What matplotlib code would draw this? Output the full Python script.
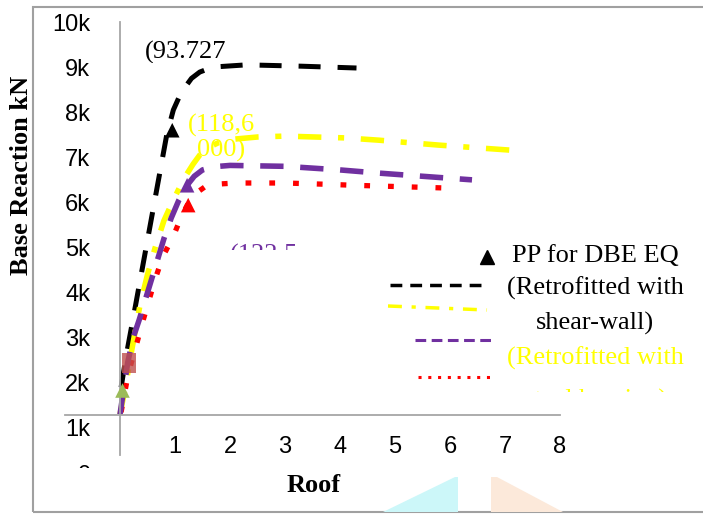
import matplotlib
matplotlib.use("Agg")
import matplotlib.pyplot as plt
from matplotlib.patches import Polygon, Rectangle
from matplotlib.transforms import Bbox, TransformedBbox

plt.rcParams['font.family'] = ['Liberation Sans', 'DejaVu Sans']
SERIF = ['Liberation Serif', 'DejaVu Serif']

# pushover curves: roof displacement vs base reaction (kN)
black_x = [0.02, 0.12, 0.25, 0.4, 0.55, 0.7, 0.85, 0.97, 1.08, 1.18, 1.3, 1.45, 1.6, 1.8, 2.3, 3.3, 4.3]
black_y = [1900, 2650, 3500, 4500, 5500, 6500, 7500, 8050, 8350, 8550, 8750, 8890, 8960, 9010, 9050, 9020, 8980]

yellow_x = [0.0, 0.09, 0.21, 0.36, 0.5, 0.64, 0.8, 0.95, 1.09, 1.2, 1.33, 1.45, 1.58, 1.8, 2.05, 2.5, 3.0, 4.1, 4.7, 5.8, 7.2]
yellow_y = [1300, 1850, 2700, 3700, 4400, 5000, 5600, 6000, 6350, 6600, 6850, 7050, 7200, 7330, 7400, 7450, 7470, 7430, 7380, 7270, 7150]

purple_x = [0.0, 0.14, 0.24, 0.35, 0.5, 0.65, 0.8, 0.93, 1.07, 1.22, 1.35, 1.5, 1.7, 2.0, 3.0, 4.0, 4.7, 6.4]
purple_y = [1300, 2450, 3000, 3400, 4000, 4600, 5200, 5650, 6050, 6380, 6580, 6720, 6790, 6820, 6800, 6720, 6650, 6500]

red_x = [0.02, 0.15, 0.3, 0.4, 0.52, 0.64, 0.78, 0.97, 1.12, 1.25, 1.4, 1.55, 1.7, 2.1, 3.0, 3.8, 4.24, 5.9]
red_y = [1350, 2200, 2850, 3300, 3800, 4300, 4800, 5250, 5700, 6000, 6220, 6350, 6400, 6430, 6430, 6400, 6380, 6320]

# performance points (DBE EQ)
pp_x = [0.95, 1.22, 1.24]
pp_y = [7600, 6380, 5940]
pp_colors = ['black', '#7030A0', '#FF0000']
green_x, green_y = [0.04], [1850]
square_x, square_y = [0.16], [2450]

y_ticks = [0, 1000, 2000, 3000, 4000, 5000, 6000, 7000, 8000, 9000, 10000]
y_tick_labels = ['0', '1k', '2k', '3k', '4k', '5k', '6k', '7k', '8k', '9k', '10k']
x_ticks = [1, 2, 3, 4, 5, 6, 7, 8]

W, H = 703, 514
fig = plt.figure(figsize=(W / 100, H / 100), dpi=100)
ax = fig.add_axes([65 / W, 41 / H, 495 / W, 451 / H])
ax.set_xlim(-1, 8)
ax.set_ylim(0, 10000)


def fx(px):
    return (px - 65) / 495


def fy(py):
    return (473 - py) / 451


# curves
ax.plot(black_x, black_y, color='black', lw=3.6, ls=(0, (4.4, 3.4)), dash_capstyle='butt')
ax.plot(yellow_x, yellow_y, color='#FFFF00', lw=4.0, ls=(0, (4.2, 3.0, 1.1, 3.0)), dash_capstyle='butt')
ax.plot(red_x, red_y, color='#FF0000', lw=3.8, ls=(0, (1.1, 3.4)), dash_capstyle='butt')
ax.plot(purple_x, purple_y, color='#7030A0', lw=4.0, ls=(0, (4.2, 3.0)), dash_capstyle='butt')

ax.scatter(pp_x, pp_y, marker='^', s=110, c=pp_colors, zorder=5, linewidths=0)
ax.scatter(green_x, green_y, marker='^', s=110, c='#9BBB59', zorder=5, linewidths=0)
rect = [(-0.7, -1), (0.7, -1), (0.7, 1), (-0.7, 1)]
ax.scatter(square_x, square_y, marker=rect, s=200, c='#C0504D', alpha=0.8, zorder=4, linewidths=0)

# axes look
for side in ['top', 'right']:
    ax.spines[side].set_visible(False)
ax.spines['left'].set_position(('data', 0))
ax.spines['left'].set_bounds(400, 10000)
ax.spines['bottom'].set_position(('data', 1290))
ax.spines['bottom'].set_bounds(-1, 8)
for side in ['left', 'bottom']:
    ax.spines[side].set_color('#A6A6A6')
    ax.spines[side].set_linewidth(1.3)

ax.set_yticks(y_ticks, y_tick_labels)
ax.set_xticks(x_ticks)
ax.tick_params(axis='y', length=0, pad=21.5, labelsize=17)
ax.tick_params(axis='x', length=0, pad=15.5, labelsize=17)
ax.yaxis.get_major_ticks()[0].label1.set_clip_box(Bbox([[0, 46], [W, H]]))

ax.set_ylabel('Base Reaction kN', family=SERIF, fontsize=19, fontweight='bold')
ax.yaxis.set_label_coords(fx(33), fy(175))
ax.set_xlabel('Roof', family=SERIF, fontsize=19, fontweight='bold')
ax.xaxis.set_label_coords(fx(314), fy(474))


def clipped_text(x, y, s, keep, **kw):
    t = ax.text(x, y, s, family=SERIF, fontsize=19, clip_on=True, **kw)
    t.set_clip_path(None)
    t.set_clip_box(TransformedBbox(Bbox(keep), ax.transAxes))
    return t


# point labels, cut off as in the source
clipped_text(0.45, 9590, '(93.727', [[0, fy(63)], [1.5, 1]], va='top', transform=ax.transData)
ax.text(1.84, 7960, '(118,6\n000)', family=SERIF, fontsize=19, color='#FFFF00',
        ha='center', va='top', linespacing=1.1)
clipped_text(2.0, 5080, '(122.5', [[0, fy(250)], [1.5, 1]], va='top', color='#7030A0',
             transform=ax.transData)

# legend
kw = dict(transform=ax.transAxes, clip_on=False)
ax.plot([fx(487)], [fy(257)], marker='^', ms=10, color='black', **kw)
ax.plot([fx(390), fx(484)], [fy(285)] * 2, color='black', lw=2.5, ls=(0, (3.4, 2.3)), **kw)
ax.plot([fx(388), fx(487)], [fy(306), fy(310)], color='#FFFF00', lw=2.5,
        ls=(0, (4.0, 2.8, 1.2, 2.8)), **kw)
ax.plot([fx(415), fx(493)], [fy(340)] * 2, color='#7030A0', lw=2.2, ls=(0, (3.5, 1.8)), **kw)
ax.plot([fx(418), fx(490)], [fy(377)] * 2, color='#FF0000', lw=2.2, ls=(0, (1.0, 2.2)), **kw)

legend_rows = [
    (fx(512), fy(256), 'PP for DBE EQ', 'black', 'left'),
    (fx(507), fy(288), '(Retrofitted with', 'black', 'left'),
    (fx(595), fy(323), 'shear-wall)', 'black', 'center'),
    (fx(507), fy(358), '(Retrofitted with', '#FFFF00', 'left'),
]
for x, y, s, c, ha in legend_rows:
    t = ax.text(x, y, s, transform=ax.transAxes, family=SERIF, fontsize=19, color=c,
                ha=ha, va='center')
    t.set_clip_on(False)
clipped_text(fx(595), fy(400), 'steel bracing)', [[0, fy(392)], [2, 1]], ha='center',
             va='center', color='#FFFF00', transform=ax.transAxes)

# frame and page artefacts
fig.add_artist(Rectangle((33 / W, 2 / H), 700 / W, 505 / H, transform=fig.transFigure,
                         fill=False, ec='#A0A0A0', lw=1.5))
fig.add_artist(Polygon([(383 / W, 2 / H), (455 / W, 37 / H), (458 / W, 37 / H), (458 / W, 2 / H)],
                       transform=fig.transFigure, fc='#CCF7F9', ec='none'))
fig.add_artist(Polygon([(491 / W, 37 / H), (497 / W, 37 / H), (563 / W, 2 / H), (491 / W, 2 / H)],
                       transform=fig.transFigure, fc='#FCE9DA', ec='none'))

fig.savefig('out.png', dpi=100)
